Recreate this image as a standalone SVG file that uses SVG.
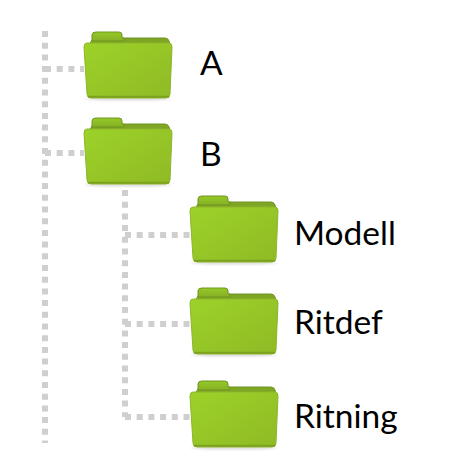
<svg xmlns="http://www.w3.org/2000/svg" width="468" height="463" viewBox="0 0 468 463">
<style>
.dot{fill:none;stroke:#cfcfcf;stroke-width:6;stroke-dasharray:6 5.7}
.lbl{font-family:Lato,"Liberation Sans",sans-serif;font-size:33.5px;fill:#000}
.tab{fill:url(#tabg);stroke:#6f9420;stroke-width:1}
.back{fill:#7fa524;stroke:#6f9420;stroke-width:1}
.front{fill:url(#fg);stroke:#8fb52a;stroke-width:1}
.lip{fill:none;stroke:#7da222;stroke-width:2;stroke-linecap:round}
.sh{fill:#000;opacity:.14}
</style>
<defs>
<linearGradient id="fg" x1="0" y1="0" x2="1" y2="1"><stop offset="0" stop-color="#9cd229"/><stop offset="1" stop-color="#8fba25"/></linearGradient>
<linearGradient id="tabg" x1="0" y1="0" x2="0" y2="1"><stop offset="0" stop-color="#95c928"/><stop offset="1" stop-color="#86b024"/></linearGradient>
<filter id="b" x="-10%" y="-100%" width="120%" height="300%"><feGaussianBlur stdDeviation="1.2"/></filter>
<g id="folder">
<ellipse class="sh" cx="44" cy="68" rx="44" ry="1.6" filter="url(#b)"/>
<path class="back" d="M5 14 L8 9 Q9 7 11 7 H81 Q84 7 85 10 L86 14 V30 H5Z"/>
<path class="tab" d="M8 10 V4 Q8 1 12 1 H35 Q38 1 38 4 V7 H40 V10Z"/>
<path class="front" d="M3 12 H85 Q88 12 88 16 L86 63 Q86 67 82 67 H7 Q3 67 3 63 L0 16 Q0 12 3 12Z"/>
<path class="lip" d="M5 65.8 H84"/>
</g>
</defs>
<g id="connectors">
<path class="dot" d="M45 31 V443"/>
<path class="dot" d="M45 69 H84"/>
<path class="dot" d="M45 153 H84"/>
<path class="dot" d="M125 190 V417"/>
<path class="dot" d="M125 235 H190"/>
<path class="dot" d="M125 324 H190"/>
<path class="dot" d="M125 417 H192"/>
</g>
<g id="node-a"><use href="#folder" x="84" y="31"/><text class="lbl" x="200" y="75">A</text></g>
<g id="node-b"><use href="#folder" x="84" y="117"/><text class="lbl" x="200" y="166">B</text></g>
<g id="node-modell"><use href="#folder" x="190" y="195"/><text class="lbl" x="294" y="245">Modell</text></g>
<g id="node-ritdef"><use href="#folder" x="190" y="287"/><text class="lbl" x="294" y="334">Ritdef</text></g>
<g id="node-ritning"><use href="#folder" x="190" y="380"/><text class="lbl" x="294" y="428">Ritning</text></g>
</svg>
